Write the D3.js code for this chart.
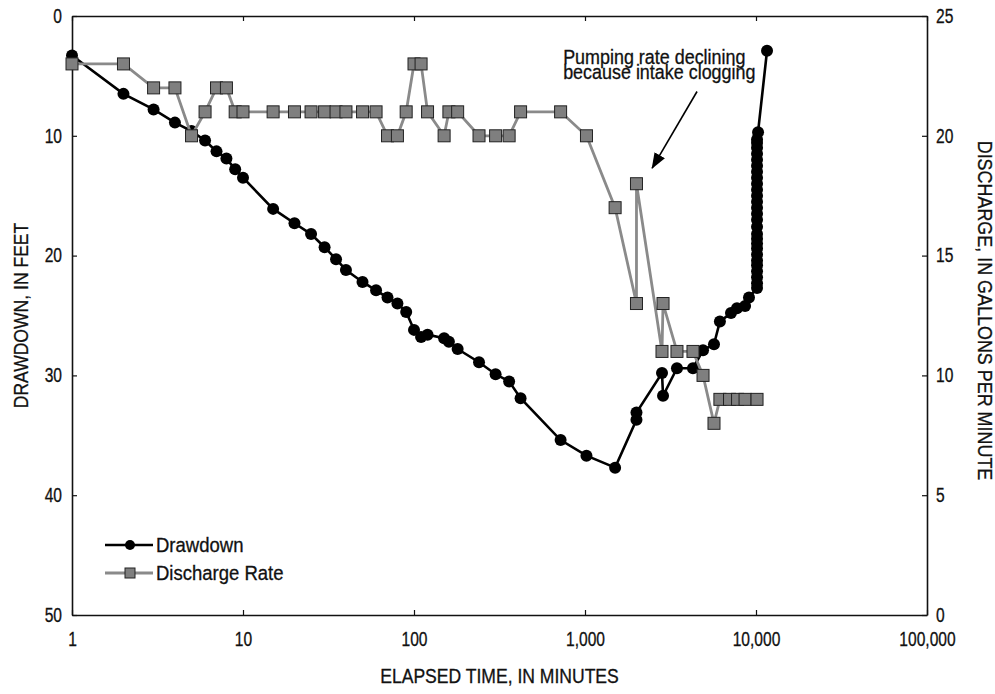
<!DOCTYPE html>
<html>
<head>
<meta charset="utf-8">
<script src="https://cdn.jsdelivr.net/npm/d3@7"></script>
<style>
  html, body { margin: 0; padding: 0; background: #fff; }
  svg { display: block; }
  text { font-family: "Liberation Sans", Arial, sans-serif; fill: #111; stroke: #111; stroke-width: 0.3px; }
</style>
</head>
<body>
<svg id="chart" width="995" height="694"></svg>
<script>
// ---- data ----
const ddTime = [1,2,3,4,5,6,7,8,9,10,15,20,25,30,35,40,50,60,70,80,90,100,110,120,150,160,180,240,300,360,420,720,1020,1500,2000,2000,2820,2860,3450,4280,4900,5680,6150,7140,7740,8630,9100,10140,
  10140,10140,10140,10140,10140,10140,10140,10140,10140,10140,10140,10140,10140,10140,10140,10140,10140,10140,10140,10140,10140,10140,10140,10140,10140,10140,10280,11600];
const drawdown = [3.3,6.5,7.8,8.9,9.6,10.4,11.3,11.9,12.8,13.5,16.1,17.3,18.2,19.3,20.3,21.2,22.2,22.9,23.5,24.0,24.7,26.2,26.8,26.6,26.9,27.2,27.8,28.9,29.9,30.5,31.9,35.4,36.7,37.7,33.7,33.1,29.8,31.7,29.4,29.4,27.9,27.4,25.5,24.8,24.4,24.2,23.5,22.7,
  22.3,21.8,21.3,20.8,20.4,19.9,19.4,19.0,18.6,18.2,17.6,17.0,16.5,16.0,15.5,15.0,14.5,14.0,13.5,13.0,12.5,12.0,11.5,11.0,10.6,10.3,9.7,2.9];

const qTime = [1,2,3,4,5,6,7,8,9,10,15,20,25,30,35,40,50,60,70,80,90,100,110,120,150,160,180,240,300,360,420,720,1020,1500,2000,2000,2820,2860,3450,4280,4900,5680,6150,7000,7800,8630,10140];
const discharge = [23,23,22,22,20,21,22,22,21,21,21,21,21,21,21,21,21,21,20,20,21,23,23,21,20,21,21,20,20,20,21,21,20,17,13,18,11,13,11,11,10,8,9,9,9,9,9];

const xTicks = [1,10,100,1000,10000,100000];
const yLeftTicks = [0,10,20,30,40,50];
const yRightTicks = [0,5,10,15,20,25];

const seriesNames = ["Drawdown", "Discharge Rate"];
const annotationLines = ["Pumping rate declining", "because intake clogging"];
// annotation anchors in data space: [time, drawdown]
const annoText = [745, 3.97];
const arrowFrom = [4520, 6.3];
const arrowTo = [2470, 12.7];

// ---- layout ----
const svg = d3.select("#chart");
const L = 72, R = 927, T = 16, B = 615;

const x = d3.scaleLog().domain([1, 100000]).range([L, R]);
const yL = d3.scaleLinear().domain([0, 50]).range([T, B]);
const yR = d3.scaleLinear().domain([0, 25]).range([B, T]);

const fmt = d3.format(",");
const FS = 19.5;        // font size
const SX_NUM = 0.80;    // horizontal condensing for numerals
const SX_TXT = 0.92;    // horizontal condensing for words

// axes
const gB = svg.append("g").attr("transform", `translate(0,${B})`)
  .call(d3.axisBottom(x).tickValues(xTicks).tickFormat(fmt).tickSize(-5).tickPadding(17).tickSizeOuter(0));
const gT = svg.append("g").attr("transform", `translate(0,${T})`)
  .call(d3.axisTop(x).tickValues(xTicks).tickFormat("").tickSize(-5).tickSizeOuter(0));
const gL = svg.append("g").attr("transform", `translate(${L},0)`)
  .call(d3.axisLeft(yL).tickValues(yLeftTicks).tickSize(-5).tickPadding(10).tickSizeOuter(0));
const gR = svg.append("g").attr("transform", `translate(${R},0)`)
  .call(d3.axisRight(yR).tickValues(yRightTicks).tickSize(-5).tickPadding(9).tickSizeOuter(0));

[gB, gT, gL, gR].forEach(g => {
  g.attr("font-family", null).attr("font-size", null);
  g.select(".domain").attr("stroke", "#111").attr("stroke-width", 1.6);
  g.selectAll(".tick line").attr("stroke", "#111").attr("stroke-width", 1.2);
  g.selectAll(".tick text")
    .attr("font-size", FS + "px")
    .style("fill", "#111")
    .each(function() {
      const t = d3.select(this);
      const xv = +t.attr("x") || 0;
      t.attr("x", xv / SX_NUM).attr("transform", `scale(${SX_NUM},1)`);
    });
});

// helper for condensed free text
function ctext(x0, y0, rot, sx, str, anchor) {
  return svg.append("text")
    .attr("transform", `translate(${x0},${y0}) rotate(${rot}) scale(${sx},1)`)
    .attr("text-anchor", anchor || "start")
    .attr("font-size", FS + "px")
    .text(str);
}

// axis titles
ctext((L + R) / 2, 683, 0, 0.90, "ELAPSED TIME, IN MINUTES", "middle");
ctext(28, (T + B) / 2, -90, 0.90, "DRAWDOWN, IN FEET", "middle");
ctext(978, (T + B) / 2 - 5, 90, 0.92, "DISCHARGE, IN GALLONS PER MINUTE", "middle");

// series data
const ddData = ddTime.map((t, i) => ({t, v: drawdown[i]}));
const qData = qTime.map((t, i) => ({t, v: discharge[i]}));

// drawdown series
svg.append("path").datum(ddData)
  .attr("fill", "none").attr("stroke", "#000").attr("stroke-width", 2.6)
  .attr("d", d3.line().x(d => x(d.t)).y(d => yL(d.v)));
svg.append("g").selectAll("circle").data(ddData).join("circle")
  .attr("cx", d => x(d.t)).attr("cy", d => yL(d.v)).attr("r", 6).attr("fill", "#000");

// discharge series
svg.append("path").datum(qData)
  .attr("fill", "none").attr("stroke", "#8a8a8a").attr("stroke-width", 2.8)
  .attr("d", d3.line().x(d => x(d.t)).y(d => yR(d.v)));
const sq = 12;
svg.append("g").selectAll("rect").data(qData).join("rect")
  .attr("x", d => x(d.t) - sq / 2).attr("y", d => yR(d.v) - sq / 2)
  .attr("width", sq).attr("height", sq)
  .attr("fill", "#7f7f7f").attr("stroke", "#222").attr("stroke-width", 1);

// annotation
const at = svg.append("text")
  .attr("transform", `translate(${x(annoText[0])},${yL(annoText[1])}) scale(${SX_TXT},1)`)
  .attr("font-size", FS + "px");
at.append("tspan").attr("x", 0).attr("y", 0).text(annotationLines[0]);
at.append("tspan").attr("x", 0).attr("y", 15.5).text(annotationLines[1]);

svg.append("defs").append("marker").attr("id", "arrow")
  .attr("viewBox", "0 0 16 12").attr("refX", 15).attr("refY", 6)
  .attr("markerWidth", 16).attr("markerHeight", 12).attr("markerUnits", "userSpaceOnUse")
  .attr("orient", "auto")
  .append("path").attr("d", "M0,0 L16,6 L0,12 Z").attr("fill", "#000");
svg.append("line")
  .attr("x1", x(arrowFrom[0])).attr("y1", yL(arrowFrom[1]))
  .attr("x2", x(arrowTo[0])).attr("y2", yL(arrowTo[1]))
  .attr("stroke", "#000").attr("stroke-width", 1.6).attr("marker-end", "url(#arrow)");

// legend
const lg = svg.append("g");
const legY = [545, 573];
lg.append("line").attr("x1", 105).attr("x2", 153).attr("y1", legY[0]).attr("y2", legY[0])
  .attr("stroke", "#000").attr("stroke-width", 2.6);
lg.append("circle").attr("cx", 130).attr("cy", legY[0]).attr("r", 5).attr("fill", "#000");
lg.append("line").attr("x1", 105).attr("x2", 153).attr("y1", legY[1]).attr("y2", legY[1])
  .attr("stroke", "#8a8a8a").attr("stroke-width", 2.8);
lg.append("rect").attr("x", 125).attr("y", legY[1] - 5).attr("width", 10).attr("height", 10)
  .attr("fill", "#7f7f7f").attr("stroke", "#222").attr("stroke-width", 1);
seriesNames.forEach((n, i) => {
  svg.append("text")
    .attr("transform", `translate(156,${legY[i]}) scale(0.95,1)`)
    .attr("dy", "0.36em")
    .attr("font-size", FS + "px")
    .text(n);
});
</script>
</body>
</html>
